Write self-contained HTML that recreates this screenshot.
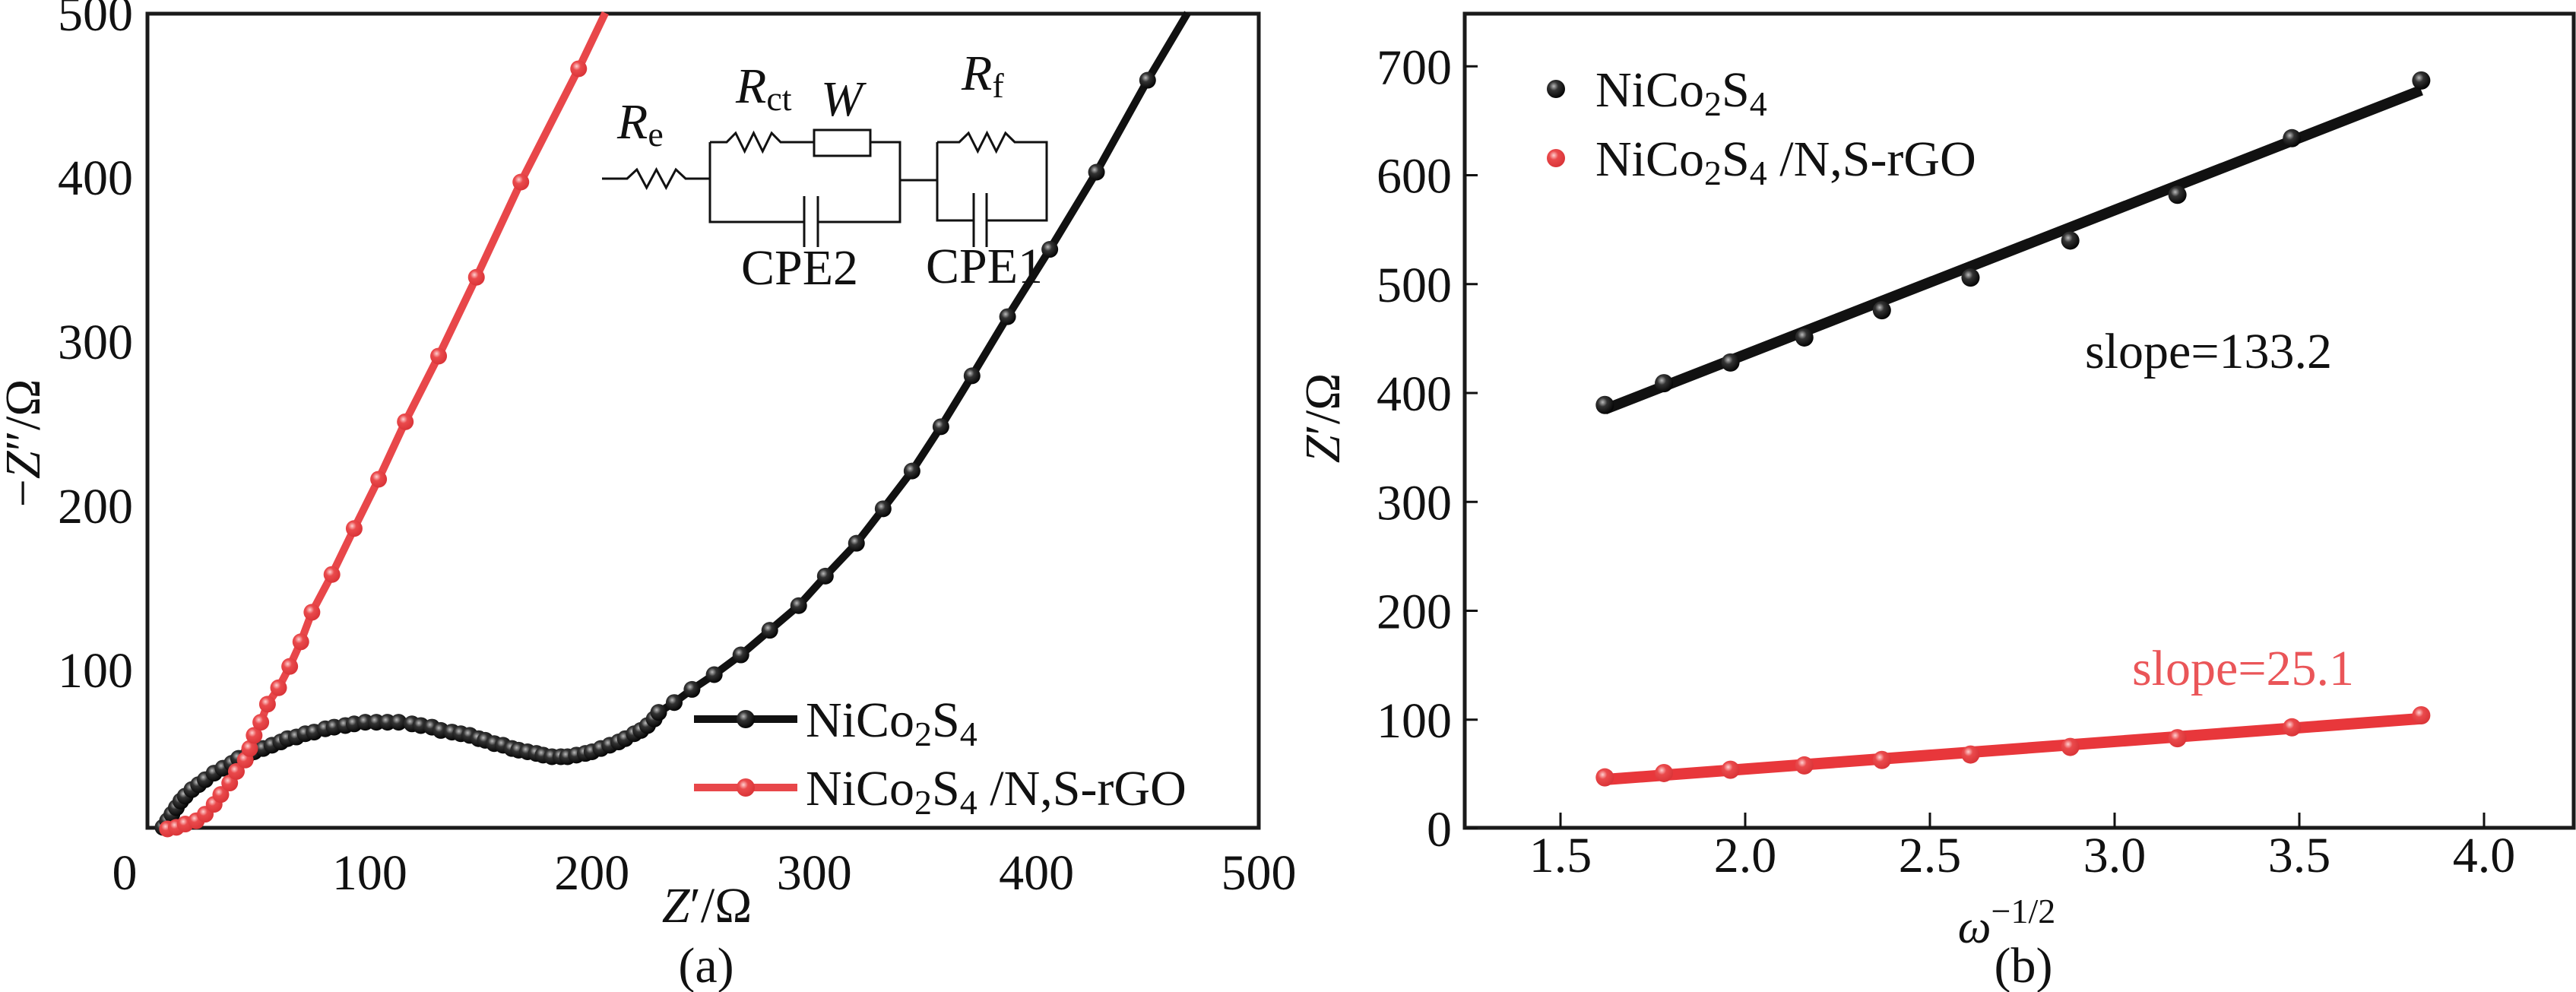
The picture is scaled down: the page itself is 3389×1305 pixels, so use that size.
<!DOCTYPE html>
<html><head><meta charset="utf-8">
<style>
html,body{margin:0;padding:0;background:#fff;}
svg{display:block;font-family:"Liberation Serif",serif;}
</style></head>
<body>
<svg id="fig" width="3389" height="1305" viewBox="0 0 3389 1305" xmlns="http://www.w3.org/2000/svg">
<defs>
<radialGradient id="gb" cx="0.38" cy="0.35" r="0.7"><stop offset="0" stop-color="#bbb"/><stop offset="0.35" stop-color="#333"/><stop offset="1" stop-color="#000"/></radialGradient>
<radialGradient id="gr" cx="0.38" cy="0.35" r="0.7"><stop offset="0" stop-color="#ffd0d0"/><stop offset="0.35" stop-color="#ea4a4c"/><stop offset="1" stop-color="#d83236"/></radialGradient>
</defs>
<g id="pa"></g>
<g id="pb"></g>
</svg>
<script>
// Panel (a) Nyquist data
const aBlackX = [7,9,11,13,15,17,20,23,26,30,34,38,41,45,48,52,56,60,63,67,71,75,80,84,89,93,98,103,108,113,119,123,128,132,137,141,145,149,152,156,160,164,167,171,175,178,182,186,189,193,197,200,204,208,212,215,219,222,225,228,230,237,245,255,267,280,293,305,319,331,344,357,371,387,406,427,450];
const aBlackY = [4,8,12,16,20,23,27,30,33,37,40,43,46,48,50,52,54,56,58,59,61,62,64,65,66,67,68,68,68,68,67,66,65,63,62,61,60,58,57,55,54,52,51,50,49,48,47,47,47,48,49,50,52,54,56,58,61,63,66,70,74,80,88,97,109,124,139,157,177,198,221,248,279,315,356,403,459];
const aBlackLineEnd = [468,500];
const aRedX = [9,13,17,22,26,30,33,37,40,44,46,48,51,54,59,64,69,74,83,93,104,116,131,148,168,194];
const aRedY = [3,4,6,8,12,18,24,31,38,45,52,60,68,79,89,102,117,135,158,186,216,251,291,339,397,466];
const aRedLineEnd = [206,500];
const aXTicks = [0,100,200,300,400,500];
const aYTicks = [100,200,300,400,500];
// Panel (b) Warburg data
const bX = [1.62,1.78,1.96,2.16,2.37,2.61,2.88,3.17,3.48,3.83];
const bBlackY = [389,409,428,451,476,506,540,582,634,687];
const bRedY = [47,51,54,58,63,68,75,83,93,104];
const bBlackFit = [385,678];
const bRedFit = [45,101];
const bXTicks = [1.5,2.0,2.5,3.0,3.5,4.0];
const bYTicks = [0,100,200,300,400,500,600,700];

const NS='http://www.w3.org/2000/svg';
function mk(parent,tag,attrs,name,inter){
  const e=document.createElementNS(NS,tag);
  for(const k in attrs)e.setAttribute(k,attrs[k]);
  
  
  parent.appendChild(e);return e;
}
function txt(parent,x,y,s,size,name,anchor,fill){
  const t=mk(parent,'text',{x:x,y:y,'font-size':size,'text-anchor':anchor||'middle',fill:fill||'#111'},name,false);
  t.textContent=s;return t;
}
// ---- Panel A
const pa=document.getElementById('pa');
const axA=v=>194+v*(1656-194)/500;
const ayA=v=>1097-v*2.16;
mk(pa,'rect',{x:194,y:18,width:1462,height:1071,fill:'none',stroke:'#1a1a1a','stroke-width':5},'plot-frame-a',false);
aXTicks.forEach(v=>{
  txt(pa,axA(v)-(v===0?30:0),1170,String(v),66,'x-tick-label');
});
aYTicks.forEach(v=>{
  txt(pa,175,ayA(v)+23,String(v),66,'y-tick-label','end');
});
function poly(parent,xs,ys,ax,ay,color,w,name,extra){
  let pts=xs.map((x,i)=>ax(x)+','+ay(ys[i]));
  if(extra)pts.push(ax(extra[0])+','+ay(extra[1]));
  mk(parent,'polyline',{points:pts.join(' '),fill:'none',stroke:color,'stroke-width':w,'stroke-linejoin':'round'},name,false);
}
const clipA=mk(pa,'g',{},'series-a-group',false);
poly(clipA,aBlackX,aBlackY,axA,ayA,'#111',10,'nico2s4-line',aBlackLineEnd);
aBlackX.forEach((x,i)=>{
  mk(clipA,'circle',{cx:axA(x),cy:ayA(aBlackY[i]),r:11,fill:'url(#gb)'},'nico2s4-point',false);
});
poly(clipA,aRedX,aRedY,axA,ayA,'#e8474a',10,'nico2s4-nsrgo-line',aRedLineEnd);
aRedX.forEach((x,i)=>{
  mk(clipA,'circle',{cx:axA(x),cy:ayA(aRedY[i]),r:11,fill:'url(#gr)'},'nico2s4-nsrgo-point',false);
});
const yt=mk(pa,'text',{x:0,y:0,'font-size':66,'text-anchor':'middle',fill:'#111',transform:'translate(52,583) rotate(-90)'},'y-axis-title-a',false);
yt.innerHTML='−<tspan font-style="italic">Z</tspan>″/Ω';
const xt=mk(pa,'text',{x:930,y:1213,'font-size':66,'text-anchor':'middle',fill:'#111'},'x-axis-title-a',false);
xt.innerHTML='<tspan font-style="italic">Z</tspan>′/Ω';
txt(pa,929,1292,'(a)',66,'panel-label-a');
// legend a
const lg=mk(pa,'g',{},'legend-a',false);
mk(lg,'line',{x1:913,y1:946,x2:1049,y2:946,stroke:'#111','stroke-width':10},'legend-line-nico2s4',false);
mk(lg,'circle',{cx:981,cy:946,r:12,fill:'url(#gb)'},'legend-marker-nico2s4',false);
let l1=mk(lg,'text',{x:1060,y:969,'font-size':66,fill:'#111'},'legend-entry-nico2s4',false);
l1.innerHTML='NiCo<tspan font-size="46" dy="12">2</tspan><tspan dy="-12">S</tspan><tspan font-size="46" dy="12">4</tspan>';
mk(lg,'line',{x1:913,y1:1036,x2:1049,y2:1036,stroke:'#e8474a','stroke-width':10},'legend-line-nsrgo',false);
mk(lg,'circle',{cx:981,cy:1036,r:12,fill:'url(#gr)'},'legend-marker-nsrgo',false);
let l2=mk(lg,'text',{x:1060,y:1059,'font-size':66,fill:'#111'},'legend-entry-nsrgo',false);
l2.innerHTML='NiCo<tspan font-size="46" dy="12">2</tspan><tspan dy="-12">S</tspan><tspan font-size="46" dy="12">4</tspan><tspan dy="-12"> /N,S-rGO</tspan>';
// circuit inset
const cg=mk(pa,'g',{fill:'none',stroke:'#111','stroke-width':3},'equivalent-circuit',false);
function zig(x1,x2,y){let p=[];const n=6,h=12;for(let i=0;i<=n;i++){p.push((x1+(x2-x1)*i/n)+','+(i===0||i===n?y:(i%2?y-h:y+h)));}return p.join(' ');}
mk(cg,'polyline',{points:'792,235 825,235 '+zig(825,902,235)+' 934,235'},'resistor-re',false);
mk(cg,'polyline',{points:'934,187 956,187 '+zig(956,1027,187)+' 1071,187'},'resistor-rct',false);
mk(cg,'rect',{x:1071,y:171,width:74,height:34},'warburg-element',false);
mk(cg,'polyline',{points:'1145,187 1184,187 1184,292 1076,292'},'wire',false);
mk(cg,'polyline',{points:'1058,292 934,292 934,187'},'wire',false);
mk(cg,'line',{x1:1058,y1:258,x2:1058,y2:325},'cpe2-plate',false);
mk(cg,'line',{x1:1076,y1:258,x2:1076,y2:325},'cpe2-plate',false);
mk(cg,'line',{x1:1184,y1:237,x2:1233,y2:237},'wire',false);
mk(cg,'polyline',{points:'1233,187 1262,187 '+zig(1262,1335,187)+' 1377,187 1377,290 1298,290'},'resistor-rf',false);
mk(cg,'polyline',{points:'1281,290 1233,290 1233,187'},'wire',false);
mk(cg,'line',{x1:1281,y1:254,x2:1281,y2:325},'cpe1-plate',false);
mk(cg,'line',{x1:1298,y1:254,x2:1298,y2:325},'cpe1-plate',false);
let r1=mk(pa,'text',{x:812,y:182,'font-size':66,fill:'#111'},'label-re',false);r1.innerHTML='<tspan font-style="italic">R</tspan><tspan font-size="46" dy="10">e</tspan>';
let r2=mk(pa,'text',{x:968,y:135,'font-size':66,fill:'#111'},'label-rct',false);r2.innerHTML='<tspan font-style="italic">R</tspan><tspan font-size="46" dy="10">ct</tspan>';
let r3=mk(pa,'text',{x:1080,y:152,'font-size':66,fill:'#111','font-style':'italic'},'label-w',false);r3.textContent='W';
let r4=mk(pa,'text',{x:1265,y:118,'font-size':66,fill:'#111'},'label-rf',false);r4.innerHTML='<tspan font-style="italic">R</tspan><tspan font-size="46" dy="10">f</tspan>';
txt(pa,1052,374,'CPE2',66,'label-cpe2');
txt(pa,1295,372,'CPE1',66,'label-cpe1');

// ---- Panel B
const pb=document.getElementById('pb');
const axB=v=>2053+(v-1.5)*486;
const ayB=v=>1090-v*1.4325;
mk(pb,'rect',{x:1927,y:18,width:1459,height:1071,fill:'none',stroke:'#1a1a1a','stroke-width':5},'plot-frame-b',false);
bXTicks.forEach(v=>{
  mk(pb,'line',{x1:axB(v),y1:1089,x2:axB(v),y2:1069,stroke:'#111','stroke-width':3},'x-tick',false);
  txt(pb,axB(v),1147,v.toFixed(1),66,'x-tick-label');
});
bYTicks.forEach(v=>{
  mk(pb,'line',{x1:1927,y1:ayB(v),x2:1944,y2:ayB(v),stroke:'#111','stroke-width':3},'y-tick',false);
  txt(pb,1910,ayB(v)+23,String(v),66,'y-tick-label','end');
});
mk(pb,'line',{x1:axB(bX[0]),y1:ayB(bBlackFit[0]),x2:axB(bX[bX.length-1]),y2:ayB(bBlackFit[1]),stroke:'#111','stroke-width':14},'nico2s4-fit-line',false);
bX.forEach((x,i)=>{
  mk(pb,'circle',{cx:axB(x),cy:ayB(bBlackY[i]),r:12,fill:'url(#gb)'},'nico2s4-point',false);
});
mk(pb,'line',{x1:axB(bX[0]),y1:ayB(bRedFit[0]),x2:axB(bX[bX.length-1]),y2:ayB(bRedFit[1]),stroke:'#e8373b','stroke-width':15},'nsrgo-fit-line',false);
bX.forEach((x,i)=>{
  mk(pb,'circle',{cx:axB(x),cy:ayB(bRedY[i]),r:12,fill:'url(#gr)'},'nsrgo-point',false);
});
txt(pb,2743,484,'slope=133.2',66,'slope-label-nico2s4','start');
txt(pb,2805,901,'slope=25.1',66,'slope-label-nsrgo','start','#ea5558');
let by=mk(pb,'text',{x:0,y:0,'font-size':66,'text-anchor':'middle',fill:'#111',transform:'translate(1762,550) rotate(-90)'},'y-axis-title-b',false);
by.innerHTML='<tspan font-style="italic">Z</tspan>′/Ω';
let bxl=mk(pb,'text',{x:2640,y:1240,'font-size':62,'text-anchor':'middle',fill:'#111'},'x-axis-title-b',false);
bxl.innerHTML='<tspan font-style="italic">ω</tspan><tspan font-size="46" dy="-26">−1/2</tspan>';
txt(pb,2662,1292,'(b)',66,'panel-label-b');
const lb=mk(pb,'g',{},'legend-b',false);
mk(lb,'circle',{cx:2047,cy:117,r:12,fill:'url(#gb)'},'legend-marker-nico2s4',false);
let lb1=mk(lb,'text',{x:2099,y:140,'font-size':66,fill:'#111'},'legend-entry-nico2s4',false);
lb1.innerHTML='NiCo<tspan font-size="46" dy="12">2</tspan><tspan dy="-12">S</tspan><tspan font-size="46" dy="12">4</tspan>';
mk(lb,'circle',{cx:2047,cy:208,r:12,fill:'url(#gr)'},'legend-marker-nsrgo',false);
let lb2=mk(lb,'text',{x:2099,y:231,'font-size':66,fill:'#111'},'legend-entry-nsrgo',false);
lb2.innerHTML='NiCo<tspan font-size="46" dy="12">2</tspan><tspan dy="-12">S</tspan><tspan font-size="46" dy="12">4</tspan><tspan dy="-12"> /N,S-rGO</tspan>';
</script>
</body></html>
